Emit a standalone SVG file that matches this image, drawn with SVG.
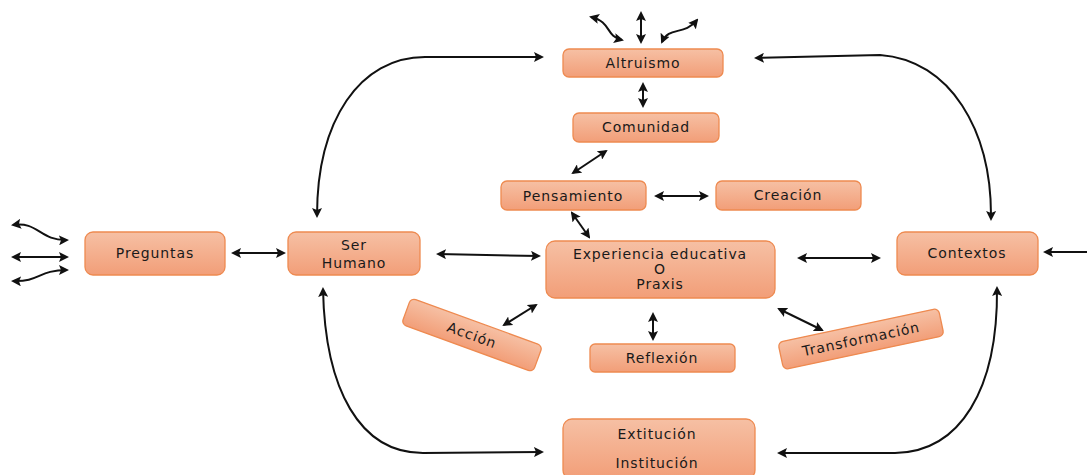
<svg xmlns="http://www.w3.org/2000/svg" width="1087" height="475" viewBox="0 0 1087 475">
<style>
.box{fill:url(#g);stroke:#EE8A50;stroke-width:1.3}
.t{font-family:"DejaVu Sans",sans-serif;font-size:14px;fill:#1a1a1a;text-anchor:middle;letter-spacing:0.9px}
.c2{fill:none;stroke:#111;stroke-width:2;marker-start:url(#a);marker-end:url(#a)}
.c1{fill:none;stroke:#111;stroke-width:2;marker-end:url(#a)}
</style>
<defs>
<linearGradient id="g" x1="0" y1="0" x2="0" y2="1">
<stop offset="0" stop-color="#F6C0A4"/>
<stop offset="1" stop-color="#F29E78"/>
</linearGradient>
<marker id="a" viewBox="0 0 10 10" refX="8" refY="5" markerWidth="5" markerHeight="5" orient="auto-start-reverse" markerUnits="strokeWidth">
<path d="M0,0 L10,5 L0,10 L2,5 z" fill="#111"/>
</marker>
</defs>
<g id="connectors">
<path class="c2" d="M641 13 L641 42"/>
<path class="c2" d="M591 17 C612 22 605 36 622 40"/>
<path class="c2" d="M697 20 C684 36 669 26 662 42"/>
<path class="c2" d="M643 84 L643 106"/>
<path class="c2" d="M606 151 L573 173"/>
<path class="c2" d="M572 213 L589 237"/>
<path class="c2" d="M656 196 L707 196"/>
<path class="c2" d="M13 225 C38 221 40 241 67 240"/>
<path class="c2" d="M13 257 L67 257"/>
<path class="c2" d="M13 281 C40 282 38 270 67 270"/>
<path class="c2" d="M233 253 L284 253"/>
<path class="c2" d="M438 254 L539 256"/>
<path class="c2" d="M799 258 L879 258"/>
<path class="c1" d="M1087 252 L1045 252"/>
<path class="c2" d="M536 305 L504 325"/>
<path class="c2" d="M653 314 L653 339"/>
<path class="c2" d="M779 309 L822 330"/>
<path class="c2" d="M542 57 L425 57 C360 57 317 120 317 216"/>
<path class="c2" d="M756 58 L880 55 C950 60 992 130 991 219"/>
<path class="c2" d="M323 289 C325 390 360 453 423 453 L542 452"/>
<path class="c2" d="M779 453 L895 453 C960 452 998 390 997 288"/>
</g>
<g id="altruismo"><rect class="box" x="563" y="49" width="160" height="28" rx="6"/><text class="t" x="643" y="68">Altruismo</text></g>
<g id="comunidad"><rect class="box" x="573" y="113" width="146" height="29" rx="6"/><text class="t" x="646" y="132">Comunidad</text></g>
<g id="pensamiento"><rect class="box" x="501" y="181" width="145" height="29" rx="6"/><text class="t" x="573" y="201">Pensamiento</text></g>
<g id="creacion"><rect class="box" x="716" y="181" width="145" height="29" rx="6"/><text class="t" x="788" y="200">Creación</text></g>
<g id="preguntas"><rect class="box" x="85" y="232" width="140" height="43" rx="8"/><text class="t" x="155" y="258">Preguntas</text></g>
<g id="ser-humano"><rect class="box" x="288" y="232" width="132" height="43" rx="8"/><text class="t" x="354" y="250">Ser</text><text class="t" x="354" y="268">Humano</text></g>
<g id="experiencia"><rect class="box" x="546" y="241" width="229" height="57" rx="9"/><text class="t" x="660" y="259">Experiencia educativa</text><text class="t" x="660" y="274">O</text><text class="t" x="660" y="289">Praxis</text></g>
<g id="contextos"><rect class="box" x="897" y="232" width="141" height="43" rx="8"/><text class="t" x="967" y="258">Contextos</text></g>
<g id="accion" transform="translate(472 335) rotate(20)"><rect class="box" x="-70" y="-14" width="140" height="28" rx="5"/><text class="t" x="0" y="5">Acción</text></g>
<g id="reflexion"><rect class="box" x="590" y="344" width="145" height="28" rx="5"/><text class="t" x="662" y="363">Reflexión</text></g>
<g id="transformacion" transform="translate(861 339) rotate(-12)"><rect class="box" x="-82" y="-14" width="164" height="28" rx="5"/><text class="t" x="0" y="5">Transformación</text></g>
<g id="extitucion"><rect class="box" x="563" y="419" width="192" height="60" rx="9"/><text class="t" x="657" y="439">Extitución</text><text class="t" x="657" y="468">Institución</text></g>
</svg>
